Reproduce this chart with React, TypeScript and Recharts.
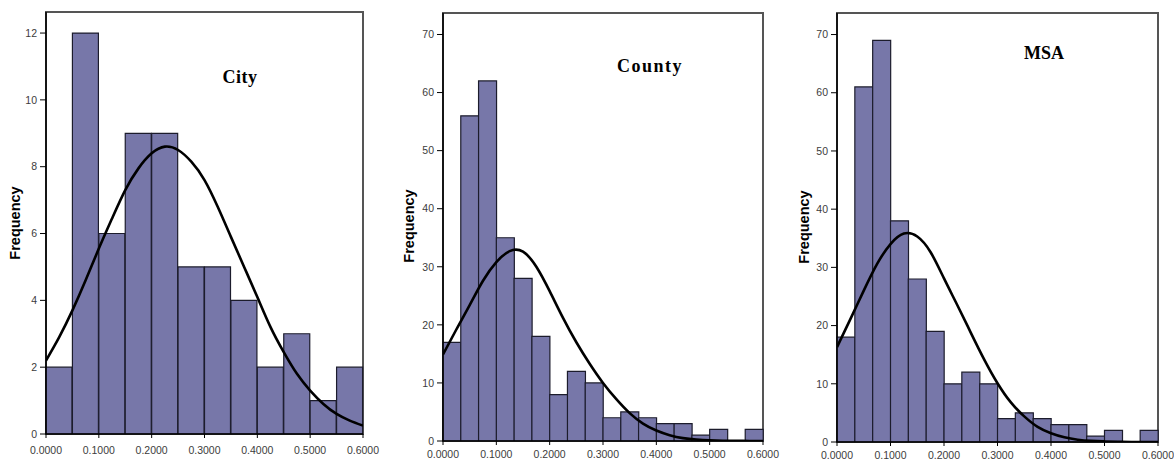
import React from 'react';
import { ComposedChart, Bar, Line, XAxis, YAxis, ReferenceArea } from 'recharts';

// ---- Data ----
const cityBins = ['0.000', '0.050', '0.100', '0.150', '0.200', '0.250', '0.300', '0.350', '0.400', '0.450', '0.500', '0.550'];
const cityFreq = [2, 12, 6, 9, 9, 5, 5, 4, 2, 3, 1, 2];

const countyBins = ['0.000', '0.033', '0.067', '0.100', '0.133', '0.167', '0.200', '0.233', '0.267', '0.300', '0.333', '0.367', '0.400', '0.433', '0.467', '0.500', '0.533', '0.567'];
const countyFreq = [17, 56, 62, 35, 28, 18, 8, 12, 10, 4, 5, 4, 3, 3, 1, 2, 0, 2];

const msaBins = countyBins;
const msaFreq = [18, 61, 69, 38, 28, 19, 10, 12, 10, 4, 5, 4, 3, 3, 1, 2, 0, 2];

const curveX = [0, 0.025, 0.05, 0.075, 0.1, 0.125, 0.15, 0.175, 0.2, 0.225, 0.25, 0.275, 0.3, 0.325, 0.35, 0.375, 0.4, 0.425, 0.45, 0.475, 0.5, 0.525, 0.55, 0.575, 0.6];
const cityCurve = [2.2, 2.9, 3.7, 4.6, 5.55, 6.45, 7.3, 7.95, 8.4, 8.6, 8.5, 8.15, 7.6, 6.8, 5.9, 5.0, 4.1, 3.2, 2.45, 1.8, 1.3, 0.9, 0.6, 0.4, 0.25];
const countyCurve = [14.9, 19.2, 23.4, 27.6, 30.8, 32.7, 32.6, 30.0, 25.8, 21.2, 17.0, 13.3, 10.0, 7.2, 4.8, 3.0, 1.8, 1.0, 0.5, 0.25, 0.12, 0.05, 0.02, 0.01, 0];
const msaCurve = [16.3, 21.1, 26.0, 30.6, 34.0, 35.8, 35.3, 32.6, 28.1, 23.5, 18.8, 14.2, 10.1, 6.8, 4.4, 2.6, 1.5, 0.8, 0.4, 0.2, 0.1, 0.04, 0.01, 0, 0];

const xTicks = [0, 0.1, 0.2, 0.3, 0.4, 0.5, 0.6];
const cityYTicks = [0, 2, 4, 6, 8, 10, 12];
const bigYTicks = [0, 10, 20, 30, 40, 50, 60, 70];

const BAR_FILL = '#7777a9';
const BAR_STROKE = '#1c1c2c';
const TICK_COLOR = '#3c3c3c';

type PanelProps = {
  title: string;
  bins: string[];
  freq: number[];
  curve: number[];
  yTicks: number[];
  yMax: number;
  left: number;
  width: number;
  margin: { top: number; right: number; bottom: number; left: number };
  yAxisWidth: number;
  xAxisHeight: number;
  xTickMargin: number;
  titlePos: { x: number; y: number };
  titleSpacing: number;
  freqPos: { x: number; y: number };
};

function Panel(p: PanelProps) {
  const data = p.bins.map((b, i) => ({ bin: b, freq: p.freq[i] }));
  const curveData = curveX.map((x, i) => ({ x, y: p.curve[i] }));
  return (
    <div style={{ position: 'absolute', left: p.left, top: 0, width: p.width, height: 463 }}>
      <ComposedChart width={p.width} height={463} data={data} margin={p.margin} barCategoryGap={0} barGap={0}>
        <XAxis
          xAxisId="x"
          dataKey="x"
          type="number"
          domain={[0, 0.6]}
          ticks={xTicks}
          allowDataOverflow
          tickFormatter={(v: number) => v.toFixed(4)}
          height={p.xAxisHeight}
          tickSize={4}
          tickMargin={p.xTickMargin}
          axisLine={{ stroke: '#000', strokeWidth: 1.5 }}
          tickLine={{ stroke: '#000' }}
          tick={{ fill: TICK_COLOR, fontSize: 10.5, fontFamily: 'Liberation Sans, Arial, sans-serif' }}
          interval={0}
        />
        <XAxis xAxisId="bins" dataKey="bin" type="category" hide height={0} />
        <YAxis
          domain={[0, p.yMax]}
          ticks={p.yTicks}
          allowDataOverflow
          width={p.yAxisWidth}
          tickSize={6}
          tickMargin={3}
          axisLine={{ stroke: '#000', strokeWidth: 1.5 }}
          tickLine={{ stroke: '#000' }}
          tick={{ fill: TICK_COLOR, fontSize: 10.5, fontFamily: 'Liberation Sans, Arial, sans-serif' }}
          interval={0}
        />
        <ReferenceArea xAxisId="x" x1={0} x2={0.6} y1={0} y2={p.yMax} fill="none" stroke="#555" strokeWidth={2} ifOverflow="visible" />
        <Bar xAxisId="bins" dataKey="freq" fill={BAR_FILL} stroke={BAR_STROKE} strokeWidth={1.2} isAnimationActive={false} />
        <Line
          xAxisId="x"
          data={curveData}
          dataKey="y"
          type="natural"
          stroke="#000"
          strokeWidth={2.6}
          dot={false}
          activeDot={false}
          isAnimationActive={false}
        />
      </ComposedChart>
      <div
        style={{
          position: 'absolute',
          left: p.titlePos.x,
          top: p.titlePos.y,
          transform: 'translate(-50%, -50%)',
          fontFamily: 'Liberation Serif, Times New Roman, serif',
          fontWeight: 'bold',
          fontSize: 18,
          letterSpacing: p.titleSpacing,
          lineHeight: 1,
          whiteSpace: 'nowrap',
          color: '#000',
        }}
      >
        {p.title}
      </div>
      <div
        style={{
          position: 'absolute',
          left: p.freqPos.x,
          top: p.freqPos.y,
          transform: 'translate(-50%, -50%) rotate(-90deg)',
          fontFamily: 'Liberation Sans, Arial, sans-serif',
          fontWeight: 'bold',
          fontSize: 14.5,
          lineHeight: 1,
          whiteSpace: 'nowrap',
          color: '#000',
        }}
      >
        Frequency
      </div>
    </div>
  );
}

export default function App() {
  return (
    <div style={{ position: 'absolute', left: 0, top: 0, width: 1174, height: 463, background: '#fff', overflow: 'hidden' }}>
      <Panel
        title="City"
        bins={cityBins}
        freq={cityFreq}
        curve={cityCurve}
        yTicks={cityYTicks}
        yMax={12.63}
        left={0}
        width={380}
        margin={{ top: 12, right: 17, bottom: 0, left: 0 }}
        yAxisWidth={46}
        xAxisHeight={29}
        xTickMargin={9}
        titlePos={{ x: 240, y: 77 }}
        titleSpacing={0.5}
        freqPos={{ x: 15, y: 223 }}
      />
      <Panel
        title="County"
        bins={countyBins}
        freq={countyFreq}
        curve={countyCurve}
        yTicks={bigYTicks}
        yMax={73.7}
        left={395}
        width={385}
        margin={{ top: 13, right: 17, bottom: 0, left: 0 }}
        yAxisWidth={48}
        xAxisHeight={22}
        xTickMargin={6}
        titlePos={{ x: 255, y: 66 }}
        titleSpacing={1.5}
        freqPos={{ x: 14, y: 226 }}
      />
      <Panel
        title="MSA"
        bins={msaBins}
        freq={msaFreq}
        curve={msaCurve}
        yTicks={bigYTicks}
        yMax={73.7}
        left={790}
        width={384}
        margin={{ top: 13, right: 16, bottom: 0, left: 0 }}
        yAxisWidth={47}
        xAxisHeight={21}
        xTickMargin={6}
        titlePos={{ x: 254, y: 53 }}
        titleSpacing={0}
        freqPos={{ x: 14, y: 227 }}
      />
    </div>
  );
}
